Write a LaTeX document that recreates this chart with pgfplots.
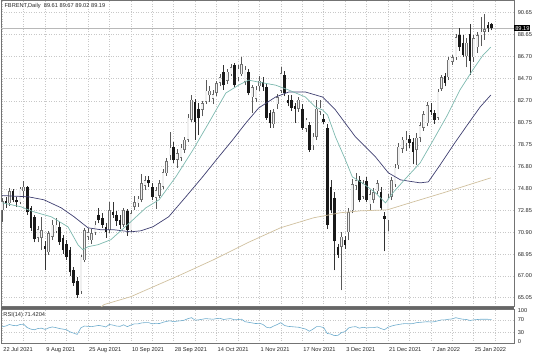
\documentclass[border=0pt]{standalone}
\usepackage{fontspec}
\setmainfont{Liberation Sans}
\usepackage{pgfplots}
\usepackage{pgfplotstable}
\pgfplotsset{compat=1.18}
\definecolor{maTeal}{RGB}{125,185,175}
\definecolor{maNavy}{RGB}{62,62,112}
\definecolor{maTan}{RGB}{208,192,158}
\definecolor{rsiBlue}{RGB}{110,172,205}
\definecolor{gridc}{RGB}{200,200,200}
\definecolor{wick}{RGB}{90,90,90}
\definecolor{bodyline}{RGB}{115,115,115}
\definecolor{bullfill}{RGB}{240,240,240}

\pgfplotstableread{
i o h l c
0 72.9 74.0 71.8 73.7
2 73.5 74.9 73.3 74.6
5 73.6 75.0 73.4 74.8
6 74.6 75.5 74.0 75.0
10 70.4 71.5 70.0 71.2
11 70.4 72.3 69.3 71.1
13 69.1 71.0 68.9 70.8
14 70.5 72.0 70.2 71.6
15 71.0 72.2 70.8 71.6
22 65.6 68.9 65.4 68.7
23 68.4 71.3 68.2 71.1
24 70.5 71.3 70.2 70.9
25 70.2 71.2 69.9 70.8
26 70.9 71.9 70.7 71.6
30 71.1 73.6 70.8 72.9
34 71.6 73.1 71.4 72.9
36 71.1 72.9 70.9 72.6
37 73.2 74.2 72.9 73.6
38 73.5 74.2 73.2 73.9
39 73.8 76.1 73.6 75.3
40 75.1 76.0 74.7 75.6
43 74.0 75.0 73.0 74.7
44 74.2 75.6 74.0 75.3
45 75.0 76.6 74.8 76.3
46 76.2 77.6 76.0 77.3
47 77.8 79.9 77.4 78.5
49 77.4 78.4 76.7 78.0
50 77.6 78.8 77.3 78.5
51 78.3 79.5 78.0 79.2
52 79.2 81.5 79.0 81.2
53 81.0 83.2 80.8 82.8
56 81.9 82.7 81.3 82.5
57 82.6 84.6 82.4 83.6
58 83.2 84.0 82.6 83.6
59 82.9 83.7 82.4 83.3
60 83.4 84.5 83.1 84.3
61 84.3 85.1 84.0 84.8
63 84.5 85.6 84.2 85.3
64 85.1 86.0 84.9 85.7
66 84.8 85.9 84.5 85.6
67 85.1 86.6 84.9 86.0
68 84.4 85.8 84.1 85.5
70 83.0 84.1 81.6 83.9
71 82.9 84.0 82.6 83.7
72 84.0 84.9 83.6 84.5
76 80.6 82.0 80.3 81.7
77 82.4 83.3 82.0 83.0
78 83.6 85.7 83.4 85.2
83 82.0 83.0 81.7 82.8
85 80.2 81.2 79.9 81.0
87 78.7 79.8 78.3 79.5
88 79.5 82.8 79.2 82.0
89 81.7 82.8 81.4 82.1
95 69.6 70.9 65.7 70.5
97 70.9 73.1 70.2 72.7
98 72.9 75.7 72.6 75.2
99 75.1 76.2 74.7 75.6
101 74.1 75.6 73.9 75.3
103 73.4 74.7 72.9 74.3
104 73.8 74.9 73.5 74.5
105 74.6 75.6 74.3 75.3
108 72.0 74.3 71.0 74.0
109 74.1 75.9 73.8 75.6
110 75.2 77.0 75.0 76.7
111 76.9 78.9 76.6 78.6
112 78.4 79.5 78.0 79.2
113 78.9 80.0 78.2 79.2
116 78.3 79.8 76.9 79.4
117 79.4 80.8 79.0 80.5
118 80.3 81.8 80.0 81.5
119 80.7 82.6 80.4 82.3
122 81.2 83.8 81.0 83.5
123 83.8 85.0 83.6 84.8
125 84.8 86.6 84.6 86.4
126 86.2 86.8 85.9 86.6
127 86.6 88.7 86.4 88.4
130 86.7 88.3 85.7 87.9
132 86.6 88.6 86.2 88.3
133 87.5 88.9 87.0 88.6
134 88.6 90.2 87.6 88.9
135 88.9 90.5 88.2 89.1
}\bull

\pgfplotstableread{
i o h l c
1 73.7 74.1 73.1 73.5
3 74.6 74.8 73.6 73.8
4 73.8 74.1 73.2 73.6
7 75.0 75.1 72.5 72.7
8 73.1 73.3 71.0 71.3
9 72.3 72.5 70.0 70.3
12 69.7 70.1 67.5 69.4
16 71.4 71.8 69.8 70.0
17 70.4 70.7 69.0 69.3
18 69.9 70.2 68.4 68.7
19 69.3 69.6 67.0 67.3
20 67.5 67.8 66.1 66.4
21 66.5 66.9 65.05 65.3
27 72.5 73.1 71.7 72.0
28 72.2 72.6 71.3 71.6
29 71.4 71.7 70.4 70.9
31 72.7 73.6 72.2 72.5
32 72.5 72.8 71.5 71.9
33 72.0 72.5 71.2 71.6
35 72.8 73.0 70.6 71.1
41 75.6 76.0 75.0 75.3
42 75.0 75.3 73.8 74.1
48 78.6 79.0 77.1 77.4
54 82.6 82.9 79.2 80.8
55 82.0 82.5 79.6 81.2
62 85.3 85.9 83.7 84.1
65 85.9 86.1 83.9 84.1
69 85.3 85.6 83.2 83.4
73 84.4 84.8 83.6 83.9
74 83.9 84.2 81.0 81.2
75 81.6 81.9 80.3 80.7
79 85.0 85.4 83.1 83.4
80 82.8 83.2 82.2 82.5
81 82.8 83.2 81.8 82.1
82 82.2 82.5 80.7 82.0
84 82.0 82.4 80.1 80.3
86 80.5 80.8 78.1 78.3
90 81.1 81.5 80.6 80.8
91 80.3 80.6 71.2 71.6
92 75.0 75.6 72.6 72.9
93 74.0 74.5 67.5 70.1
94 69.6 69.9 68.6 68.9
96 70.2 70.6 69.4 69.8
100 75.6 76.0 73.6 73.8
102 75.5 75.9 73.6 73.8
106 74.5 75.0 72.9 73.1
107 72.4 72.7 69.2 72.1
114 79.3 79.6 78.5 78.9
115 79.0 79.4 77.0 78.1
120 81.9 82.5 81.4 81.7
121 81.6 81.9 80.6 81.0
124 84.9 85.2 84.0 84.3
128 88.6 89.2 87.2 87.5
129 87.9 88.6 86.6 86.8
131 88.7 89.6 85.0 86.3
136 89.5 89.8 88.9 89.2
137 89.61 89.67 89.02 89.19
}\bear

\pgfplotstableread{
i v
0 73.55
5.3 73.19
7.3 72.92
8.9 72.74
11.7 72.48
13.7 72.30
18.4 71.40
21.2 69.79
22.6 69.34
24.0 69.61
26.8 69.79
30.4 70.24
36.0 71.85
40.2 73.10
43.9 73.82
48.6 75.88
53.4 78.30
57.8 80.71
62.6 83.40
66.2 84.11
69.0 84.56
71.8 84.38
76.5 84.11
80.2 83.67
84.9 83.04
87.7 82.14
89.7 81.88
91.1 81.43
93.3 79.46
96.1 77.40
98.0 75.88
100.8 75.34
104.5 74.45
107.3 73.55
109.5 74.50
113.0 75.75
117.0 77.13
120.7 79.19
124.6 81.40
128.2 83.70
131.8 85.50
134.6 86.80
136.8 87.52
}\teal

\pgfplotstableread{
i v
0 74.20
7.3 74.09
11.7 73.82
16.5 73.10
20.1 72.30
24.0 71.31
27.7 71.13
31.3 71.13
36.0 70.95
38.8 71.04
42.2 71.40
46.6 72.30
51.4 74.09
56.1 75.88
60.6 77.67
64.5 79.19
68.2 80.71
71.8 82.06
76.5 83.04
80.2 83.49
84.9 83.49
89.7 83.04
93.3 81.88
98.9 79.46
104.5 77.67
108.1 76.24
111.5 75.61
117.0 75.34
119.3 75.43
122.6 76.95
126.3 78.74
130.2 80.53
133.8 82.15
136.8 83.22
}\navy

\pgfplotstableread{
i v
27.5 64.15
28.5 64.42
36.0 65.13
50.0 67.10
59.2 68.45
68.7 69.97
77.9 71.31
87.2 72.21
94.7 72.66
100.3 72.83
107.8 72.92
114.2 73.55
123.5 74.45
136.8 75.79
}\tan

\pgfplotstableread{
i v
0 48
1 50
2 55
3 52
4 51
5 55
6 56
7 45
8 40
9 38
10 42
11 43
12 39
13 44
14 47
15 45
16 42
17 40
18 38
19 31
20 27
21 23
22 44
23 50
24 49
25 48
26 50
27 52
28 50
29 47
30 55
31 53
32 50
33 49
34 54
35 48
36 53
37 57
38 57
39 60
40 61
41 61
42 57
43 59
44 58
45 62
46 65
47 67
48 64
49 66
50 67
51 69
52 74
53 77
54 69
55 70
56 72
57 74
58 73
59 72
60 74
61 75
62 71
63 73
64 74
65 70
66 71
67 72
68 64
69 62
70 60
71 58
72 59
73 55
74 46
75 44
76 50
77 55
78 61
79 52
80 49
81 48
82 47
83 46
84 43
85 40
86 33
87 40
88 48
89 48
90 45
91 26
92 24
93 19
94 20
95 29
96 32
97 44
98 47
99 48
100 43
101 46
102 44
103 45
104 45
105 47
106 42
107 38
108 46
109 50
110 53
111 55
112 57
113 58
114 57
115 58
116 61
117 62
118 63
119 64
120 63
121 64
122 67
123 70
124 70
125 72
126 73
127 77
128 74
129 72
130 71
131 68
132 70
133 71
134 72
135 72
136 71.8
137 71.42
}\rsi

\newcommand{\tf}{\fontsize{5.7}{6.8}\selectfont}
\pgfplotsset{
  candle/.style={draw=none, mark=none, forget plot,
    error bars/.cd, y dir=plus, y explicit, error mark=none},
}

\begin{document}
\begin{tikzpicture}[x=1bp,y=1bp]
\path (0,0) rectangle (536,357);
\begin{axis}[
  name=main,
  at={(0bp,50bp)}, anchor=south west, scale only axis,
  width=514bp, height=307bp,
  xmin=-0.28, xmax=143.3, ymin=64.24, ymax=91.72,
  axis line style={draw=black!55, line width=0.6bp},
  xtick={0,6,...,138}, xticklabels={},
  ytick={65.05,67.00,68.95,70.90,72.85,74.80,76.80,78.75,80.75,82.70,84.70,86.70,88.65,90.65},
  yticklabels={65.05,67.00,68.95,70.90,72.85,74.80,76.80,78.75,80.75,82.70,84.70,86.70,88.65,90.65},
  ytick pos=right, yticklabel pos=right, xtick pos=bottom,
  major tick length=0pt,
  xmajorgrids, ymajorgrids,
  grid style={gridc, dash pattern=on 1bp off 1.5bp, line width=0.5bp},
  yticklabel style={font=\tf, anchor=west, inner sep=0pt, xshift=3.5bp, text=black!85},
  xticklabel style={font=\tf, inner sep=0pt},
  clip mode=individual,
]
\addplot[black!28, line width=0.4bp, forget plot] coordinates {(-0.28,89.19) (143.3,89.19)};
% wicks
\addplot[candle, error bar style={draw=wick, line width=0.6bp}]
  table[x=i, y=l, y error plus expr=\thisrow{h}-\thisrow{l}] {\bull};
\addplot[candle, error bar style={draw=black!80, line width=0.6bp}]
  table[x=i, y=l, y error plus expr=\thisrow{h}-\thisrow{l}] {\bear};
% bull bodies
\addplot[candle, error bar style={draw=bodyline, line width=2.6bp}]
  table[x=i, y=o, y error plus expr=\thisrow{c}-\thisrow{o}] {\bull};
\addplot[candle, error bar style={draw=bullfill, line width=1.6bp}]
  table[x=i, y expr=\thisrow{o}+0.05, y error plus expr={max(\thisrow{c}-\thisrow{o}-0.10,0)}] {\bull};
% bear bodies
\addplot[candle, error bar style={draw=black!90, line width=2.6bp}]
  table[x=i, y=c, y error plus expr=\thisrow{o}-\thisrow{c}] {\bear};
% moving averages
\addplot[maTan, line width=0.7bp, mark=none] table[x=i, y=v] {\tan};
\addplot[maNavy, line width=0.7bp, mark=none] table[x=i, y=v] {\navy};
\addplot[maTeal, line width=0.7bp, mark=none] table[x=i, y=v] {\teal};
\node[anchor=north west, inner sep=0pt, font=\tf, text=black!85] at (rel axis cs:0.006,0.992) {FBRENT,Daily\ \ 89.61 89.67 89.02 89.19};
\node[anchor=west, fill=black, text=white, inner sep=1bp, font=\tf] at (axis cs:143.3,89.19) {89.19};
\end{axis}

\begin{axis}[
  name=rsi,
  at={(0bp,13bp)}, anchor=south west, scale only axis,
  width=514bp, height=34bp,
  xmin=-0.28, xmax=143.3, ymin=-6.5, ymax=103.2,
  axis line style={draw=black!55, line width=0.6bp},
  xtick={0,6,...,138},
  xticklabels={22 Jul 2021,,9 Aug 2021,,25 Aug 2021,,10 Sep 2021,,28 Sep 2021,,14 Oct 2021,,1 Nov 2021,,17 Nov 2021,,3 Dec 2021,,21 Dec 2021,,7 Jan 2022,,25 Jan 2022,},
  ytick={30,70}, yticklabels={30,70},
  extra y ticks={0,100}, extra y tick labels={0,100},
  extra y tick style={grid=none},
  ytick pos=right, yticklabel pos=right, xtick pos=bottom,
  major tick length=0pt,
  xmajorgrids, ymajorgrids,
  grid style={gridc, dash pattern=on 1bp off 1.5bp, line width=0.5bp},
  yticklabel style={font=\tf, anchor=west, inner sep=0pt, xshift=3.5bp, text=black!85},
  xticklabel style={font=\tf, anchor=north west, inner sep=0pt, xshift=1bp, yshift=-4bp, text=black!85},
  clip mode=individual,
]
\addplot[rsiBlue, line width=0.6bp, mark=none] table[x=i, y=v] {\rsi};
\node[anchor=north west, inner sep=0pt, font=\tf, text=black!85] at (rel axis cs:0.004,0.93) {RSI(14) 71.4204};
\end{axis}
\draw[black!60, line width=2.5bp] (0,48.5) -- (514,48.5);
\end{tikzpicture}
\end{document}
